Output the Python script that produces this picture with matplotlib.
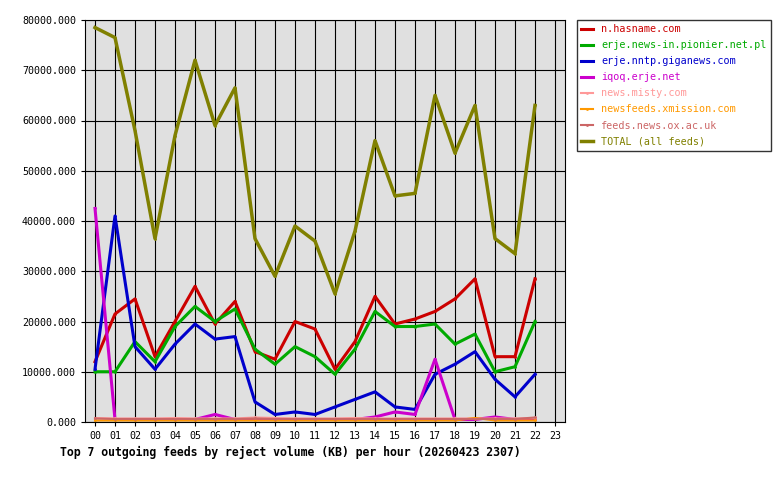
import matplotlib
matplotlib.use("Agg")
import matplotlib.pyplot as plt

hours = [f"{h:02d}" for h in range(24)]
total = [78500,76500,58000,36500,57000,72000,59000,66500,36500,29000,39000,36000,25500,38000,56000,45000,45500,65000,53500,63000,36500,33500,63000]
hasname = [12000,21500,24500,13000,20000,27000,19500,24000,14000,12500,20000,18500,10500,16000,25000,19500,20500,22000,24500,28500,13000,13000,28500]
pionier = [10000,10000,16000,12000,19000,23000,20000,22500,14500,11500,15000,13000,9500,14500,22000,19000,19000,19500,15500,17500,10000,11000,20000]
giganews = [10500,41000,15000,10500,15500,19500,16500,17000,4000,1500,2000,1500,3000,4500,6000,3000,2500,9500,11500,14000,8500,5000,9500]
iqoq = [42500,500,500,500,500,500,1500,500,500,500,500,500,500,500,1000,2000,1500,12500,500,500,1000,500,500]
misty = [800,700,700,700,800,700,700,700,900,800,700,700,700,800,700,700,700,700,700,700,700,700,800]
xmission = [300,300,300,300,300,300,300,300,300,300,300,300,300,300,300,300,300,300,300,800,300,300,300]
ox = [700,600,600,600,600,600,600,600,700,600,600,600,600,600,600,600,600,600,600,600,600,600,900]

series = [
    ("n.hasname.com", hasname, "#cc0000", 2.2),
    ("erje.news-in.pionier.net.pl", pionier, "#00aa00", 2.2),
    ("erje.nntp.giganews.com", giganews, "#0000cc", 2.2),
    ("iqoq.erje.net", iqoq, "#cc00cc", 2.2),
    ("news.misty.com", misty, "#ff9999", 1.5),
    ("newsfeeds.xmission.com", xmission, "#ff9900", 1.5),
    ("feeds.news.ox.ac.uk", ox, "#cc6666", 1.5),
    ("TOTAL (all feeds)", total, "#808000", 2.5),
]

plt.rcParams['font.family'] = ['DejaVu Sans Mono']
fig = plt.figure(figsize=(7.8, 4.8), dpi=100)
ax = fig.add_axes([85/780, 58/480, 480/780, 402/480])
ax.set_facecolor("#e0e0e0")
x = list(range(23))
for name, vals, c, lw in series:
    ax.plot(x, vals, color=c, lw=lw, marker='.', markersize=2, label=name)
ax.set_xlim(-0.5, 23.5)
ax.set_ylim(0, 80000)
ax.set_xticks(range(24))
ax.set_xticklabels(hours, fontsize=7.2)
ax.set_yticks(range(0, 80001, 10000))
ax.set_yticklabels([f"{v}.000" for v in range(0, 80001, 10000)], fontsize=7.2)
ax.grid(True, color="black", lw=0.8)
ax.set_axisbelow(True)
ax.tick_params(length=3)
leg = fig.legend(loc="upper left", bbox_to_anchor=(577/780, 1-20/480), fontsize=7.3,
                 frameon=True, fancybox=False, edgecolor="black", handlelength=1.2,
                 borderaxespad=0, labelspacing=0.6)
for t, (_, _, c, _) in zip(leg.get_texts(), series):
    t.set_color(c)
fig.text(60/780, 1-452/480, "Top 7 outgoing feeds by reject volume (KB) per hour (20260423 2307)",
         fontsize=8.3, fontweight="bold", va="center")
fig.savefig("out.png", dpi=100)
